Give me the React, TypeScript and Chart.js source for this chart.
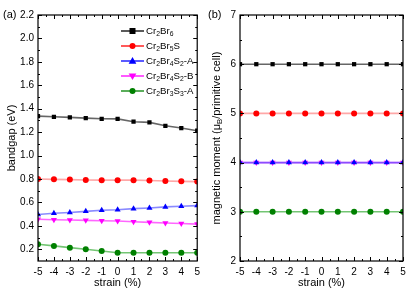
import React, { useEffect, useRef } from 'react';
import { Chart, registerables } from 'chart.js';
Chart.register(...registerables);

const strain = [-5, -4, -3, -2, -1, 0, 1, 2, 3, 4, 5];
const gapCr2Br6 = [1.337, 1.331, 1.326, 1.32, 1.314, 1.313, 1.289, 1.283, 1.254, 1.235, 1.212];
const gapCr2Br5S = [0.8, 0.797, 0.795, 0.792, 0.79, 0.79, 0.79, 0.787, 0.783, 0.78, 0.778];
const gapCr2Br4S2A = [0.497, 0.507, 0.514, 0.524, 0.533, 0.538, 0.547, 0.553, 0.562, 0.567, 0.573];
const gapCr2Br4S2B = [0.456, 0.452, 0.45, 0.447, 0.444, 0.442, 0.435, 0.43, 0.425, 0.42, 0.415];
const gapCr2Br3S3A = [0.243, 0.229, 0.214, 0.2, 0.186, 0.171, 0.171, 0.171, 0.171, 0.171, 0.171];
const momCr2Br6 = [6, 6, 6, 6, 6, 6, 6, 6, 6, 6, 6];
const momCr2Br5S = [5, 5, 5, 5, 5, 5, 5, 5, 5, 5, 5];
const momCr2Br4S2A = [4, 4, 4, 4, 4, 4, 4, 4, 4, 4, 4];
const momCr2Br4S2B = [4, 4, 4, 4, 4, 4, 4, 4, 4, 4, 4];
const momCr2Br3S3A = [3, 3, 3, 3, 3, 3, 3, 3, 3, 3, 3];

const strainTicks = [-5, -4, -3, -2, -1, 0, 1, 2, 3, 4, 5];
const gapTicks = [0.2, 0.4, 0.6, 0.8, 1.0, 1.2, 1.4, 1.6, 1.8, 2.0, 2.2];
const momTicks = [2, 3, 4, 5, 6, 7];
const xTitle = 'strain (%)';

type Seg = [string, boolean];
const seriesNames: Seg[][] = [
  [['Cr', false], ['2', true], ['Br', false], ['6', true]],
  [['Cr', false], ['2', true], ['Br', false], ['5', true], ['S', false]],
  [['Cr', false], ['2', true], ['Br', false], ['4', true], ['S', false], ['2', true], ['-A', false]],
  [['Cr', false], ['2', true], ['Br', false], ['4', true], ['S', false], ['2', true], ['-B', false]],
  [['Cr', false], ['2', true], ['Br', false], ['3', true], ['S', false], ['3', true], ['-A', false]],
];
const colors = ['#000000', '#ff0000', '#0000ff', '#ff00ff', '#008000'];
const lineColors = ['rgba(0,0,0,0.6)', 'rgba(255,80,80,0.5)', 'rgba(60,60,255,0.6)', 'rgba(255,0,255,0.6)', 'rgba(0,150,0,0.55)'];
const styles: any[] = ['rect', 'circle', 'triangle', 'triangle', 'circle'];
const rotations = [0, 0, 0, 180, 0];
const radii = [3, 3, 3.5, 3.5, 3];

const FONT = '"Liberation Sans", Arial, sans-serif';

function richWidth(ctx: CanvasRenderingContext2D, segs: Seg[], size: number) {
  let w = 0;
  for (const [t, sub] of segs) {
    ctx.font = `${sub ? size * 0.7 : size}px ${FONT}`;
    w += ctx.measureText(t).width;
  }
  return w;
}
function drawRich(ctx: CanvasRenderingContext2D, x: number, y: number, segs: Seg[], size: number) {
  ctx.textBaseline = 'middle';
  ctx.textAlign = 'left';
  let cx = x;
  for (const [t, sub] of segs) {
    ctx.font = `${sub ? size * 0.7 : size}px ${FONT}`;
    ctx.fillText(t, cx, sub ? y + size * 0.3 : y);
    cx += ctx.measureText(t).width;
  }
}
function drawMarker(ctx: CanvasRenderingContext2D, style: string, rot: number, r: number, x: number, y: number, color: string) {
  ctx.save();
  ctx.fillStyle = color;
  ctx.translate(x, y);
  ctx.rotate((rot * Math.PI) / 180);
  ctx.beginPath();
  if (style === 'rect') {
    ctx.rect(-r, -r, 2 * r, 2 * r);
  } else if (style === 'circle') {
    ctx.arc(0, 0, r, 0, Math.PI * 2);
  } else {
    ctx.moveTo(0, -r * 1.15);
    ctx.lineTo(r * 1.1, r * 0.75);
    ctx.lineTo(-r * 1.1, r * 0.75);
    ctx.closePath();
  }
  ctx.fill();
  ctx.restore();
}

function makeFrame(opts: { label: string; title: Seg[]; titleX: number; minorY: number[]; majorY: number[]; legend: boolean }) {
  return {
    id: 'frame',
    afterDraw(chart: any) {
      const ctx: CanvasRenderingContext2D = chart.ctx;
      const a = chart.chartArea;
      const xs = chart.scales.x;
      const ys = chart.scales.y;
      ctx.save();
      ctx.strokeStyle = '#000';
      ctx.lineWidth = 1.2;
      ctx.strokeRect(a.left, a.top, a.right - a.left, a.bottom - a.top);
      ctx.lineWidth = 1;
      ctx.beginPath();
      for (const v of strainTicks) {
        const p = Math.round(xs.getPixelForValue(v)) + 0.5;
        ctx.moveTo(p, a.bottom); ctx.lineTo(p, a.bottom - 4);
        ctx.moveTo(p, a.top); ctx.lineTo(p, a.top + 4);
        if (v < 5) {
          const q = Math.round(xs.getPixelForValue(v + 0.5)) + 0.5;
          ctx.moveTo(q, a.bottom); ctx.lineTo(q, a.bottom - 2);
          ctx.moveTo(q, a.top); ctx.lineTo(q, a.top + 2);
        }
      }
      for (const v of opts.majorY) {
        const p = Math.round(ys.getPixelForValue(v)) + 0.5;
        ctx.moveTo(a.left, p); ctx.lineTo(a.left + 4, p);
        ctx.moveTo(a.right, p); ctx.lineTo(a.right - 4, p);
      }
      for (const v of opts.minorY) {
        const p = Math.round(ys.getPixelForValue(v)) + 0.5;
        ctx.moveTo(a.left, p); ctx.lineTo(a.left + 2, p);
        ctx.moveTo(a.right, p); ctx.lineTo(a.right - 2, p);
      }
      ctx.stroke();

      ctx.fillStyle = '#000';
      ctx.font = `11px ${FONT}`;
      ctx.textBaseline = 'middle';
      ctx.textAlign = 'left';
      ctx.fillText(opts.label, 3, 15);

      ctx.textAlign = 'center';
      ctx.fillText(xTitle, (a.left + a.right) / 2, 283);

      // y title
      const tw = richWidth(ctx, opts.title, 11);
      ctx.save();
      ctx.translate(opts.titleX, (a.top + a.bottom) / 2);
      ctx.rotate(-Math.PI / 2);
      drawRich(ctx, -tw / 2, 0, opts.title, 11);
      ctx.restore();

      if (opts.legend) {
        for (let i = 0; i < seriesNames.length; i++) {
          const y = 31 + i * 15;
          ctx.strokeStyle = colors[i];
          ctx.lineWidth = 1.3;
          ctx.beginPath();
          ctx.moveTo(121, y); ctx.lineTo(144, y);
          ctx.stroke();
          drawMarker(ctx, styles[i], rotations[i], radii[i], 132.5, y, colors[i]);
          ctx.fillStyle = '#000';
          drawRich(ctx, 146, y, seriesNames[i], 9.7);
        }
      }
      ctx.restore();
    },
  };
}

function makeConfig(series: number[][], yMin: number, yMax: number, yTicks: number[], yWidth: number, padRight: number, frame: any): any {
  return {
    type: 'line',
    data: {
      labels: strain,
      datasets: series.map((d, i) => ({
        data: strain.map((x, j) => ({ x, y: d[j] })),
        borderColor: lineColors[i],
        backgroundColor: colors[i],
        pointBackgroundColor: colors[i],
        pointBorderColor: colors[i],
        pointStyle: styles[i],
        rotation: rotations[i],
        pointRadius: radii[i],
        borderWidth: 1.6,
        pointBorderWidth: 0,
        tension: 0,
      })),
    },
    options: {
      responsive: false,
      animation: false,
      layout: { padding: { left: 0, right: padRight, top: 15, bottom: 0 } },
      plugins: { legend: { display: false }, tooltip: { enabled: false } },
      scales: {
        x: {
          type: 'linear',
          min: -5,
          max: 5,
          afterBuildTicks: (s: any) => { s.ticks = strainTicks.map((v) => ({ value: v })); },
          afterFit: (s: any) => { s.height = 29; },
          grid: { display: true, drawOnChartArea: false, drawTicks: false },
          border: { display: false },
          ticks: { color: '#000', font: { family: FONT, size: 10 }, padding: 5, maxRotation: 0, autoSkip: false },
        },
        y: {
          type: 'linear',
          min: yMin,
          max: yMax,
          afterBuildTicks: (s: any) => { s.ticks = yTicks.map((v) => ({ value: v })); },
          afterFit: (s: any) => { s.width = yWidth; },
          grid: { display: true, drawOnChartArea: false, drawTicks: false },
          border: { display: false },
          ticks: {
            color: '#000',
            font: { family: FONT, size: 10 },
            padding: 4,
            autoSkip: false,
            callback: (v: any) => (yMax < 3 ? Number(v).toFixed(1) : String(v)),
          },
        },
      },
    },
    plugins: [frame],
  };
}

export default function App() {
  const leftRef = useRef<HTMLCanvasElement>(null);
  const rightRef = useRef<HTMLCanvasElement>(null);
  useEffect(() => {
    const gapMinor: number[] = [];
    for (let i = 0; i < 10; i++) gapMinor.push(0.3 + i * 0.2);
    const momMinor = [2.5, 3.5, 4.5, 5.5, 6.5];
    const left = new Chart(
      leftRef.current!,
      makeConfig(
        [gapCr2Br6, gapCr2Br5S, gapCr2Br4S2A, gapCr2Br4S2B, gapCr2Br3S3A],
        0.1, 2.2, gapTicks, 38, 6,
        makeFrame({ label: '(a)', title: [['bandgap (eV)', false]], titleX: 12, minorY: gapMinor, majorY: gapTicks, legend: true })
      )
    );
    const right = new Chart(
      rightRef.current!,
      makeConfig(
        [momCr2Br6, momCr2Br5S, momCr2Br4S2A, momCr2Br4S2B, momCr2Br3S3A],
        2, 7, momTicks, 35, 12,
        makeFrame({
          label: '(b)',
          title: [['magnetic moment (μ', false], ['B', true], ['/primitive cell)', false]],
          titleX: 12,
          minorY: momMinor,
          majorY: momTicks,
          legend: false,
        })
      )
    );
    return () => {
      left.destroy();
      right.destroy();
    };
  }, []);
  return (
    <div style={{ position: 'absolute', left: 0, top: 0, width: 415, height: 290, background: '#fff' }}>
      <canvas ref={leftRef} width={205} height={290} style={{ position: 'absolute', left: 0, top: 0 }} />
      <canvas ref={rightRef} width={210} height={290} style={{ position: 'absolute', left: 205, top: 0 }} />
    </div>
  );
}
